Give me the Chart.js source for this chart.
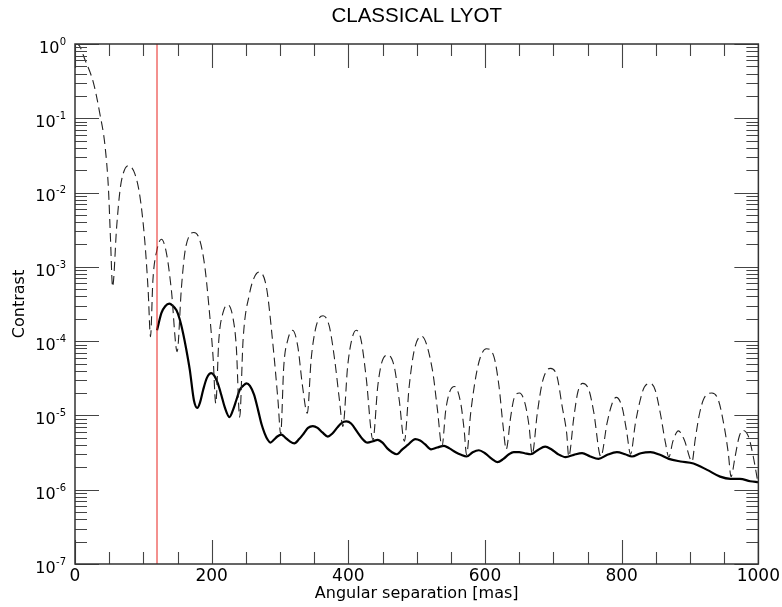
<!DOCTYPE html>
<html>
<head>
<meta charset="utf-8">
<script src="https://cdn.jsdelivr.net/npm/chart.js@4.4.1/dist/chart.umd.min.js"></script>
<style>
  html, body { margin: 0; padding: 0; background: #fff; }
  #wrap { width: 782px; height: 607px; }
</style>
</head>
<body>
<div id="wrap"><canvas id="c" width="782" height="607"></canvas></div>
<script>
// ---- Data ----
const chartTitle = 'CLASSICAL LYOT';
const xTitle = 'Angular separation [mas]';
const yTitle = 'Contrast';
const xTicks = [0, 200, 400, 600, 800, 1000];
const yTicks = [1e-7, 1e-6, 1e-5, 1e-4, 1e-3, 1e-2, 1e-1, 1];
const yTickBase = '10';
const yTickExp = ['-7', '-6', '-5', '-4', '-3', '-2', '-1', '0'];
const iwaSeparation = [120, 120];
const iwaRange = [1e-7, 1];

// dashed curve (no coronagraph PSF)
const psfX = [0, 5, 15, 27, 36, 44, 49, 52, 55, 61, 66, 70.5, 78, 87.5, 95, 102, 107, 110.5, 114, 120, 126.5, 134, 141, 149.5,
  155.5, 160.5, 167, 174, 182.5, 190, 196, 202, 206, 210.5, 216.5, 223.5, 231, 236, 241, 246, 255.5, 262, 269, 280, 289.5,
  297, 301, 305.5, 311.5, 318.5, 326, 333, 340, 345.5, 353, 363, 372, 380, 387, 392, 399, 405, 411.5, 418.5, 426, 436,
  443, 448.5, 458, 467, 474.5, 482, 489, 496.5, 507, 523, 530.5, 537, 542.5, 548.5, 555.5, 564.5, 569.5, 573, 579, 586.5,
  593.5, 602, 613, 620.5, 626.5, 631, 637.5, 642.5, 650.5, 658.5, 664.5, 669, 676.5, 683.5, 691, 696, 705.5, 713, 719.5,
  722.5, 730, 736, 743, 752, 759, 769.5, 778.5, 786, 792, 800.5, 807, 813, 820, 827, 833, 842, 849, 856.5, 864, 869, 875,
  883, 891.5, 903, 907.5, 914, 920.5, 932, 941.5, 950, 956, 960, 966, 972, 977, 985.5, 992.5, 999];
const psfY = [1, 0.98, 0.60, 0.30, 0.12, 4.2e-2, 1.1e-2, 2.3e-3, 5.4e-4, 3.5e-3, 1.1e-2, 1.8e-2, 2.3e-2, 1.8e-2, 8.9e-3, 2.3e-3, 4.9e-4, 1.15e-4, 6.6e-4, 1.7e-3, 2.35e-3, 1.5e-3, 4.9e-4, 7.2e-5,
  4.9e-4, 1.5e-3, 2.6e-3, 2.9e-3, 2.3e-3, 1.0e-3, 2.9e-4, 6.2e-5, 1.45e-5, 1.05e-4, 2.4e-4, 3.1e-4, 2.1e-4, 8.5e-5, 9.5e-6, 1.05e-4, 4.4e-4, 7.1e-4, 8.5e-4, 5.4e-4, 9.3e-5,
  1.6e-5, 5.6e-6, 4.6e-5, 1.05e-4, 1.4e-4, 8.5e-5, 2.45e-5, 1.07e-5, 5.6e-5, 1.6e-4, 2.2e-4, 1.6e-4, 5.6e-5, 1.6e-5, 7.1e-6, 4.6e-5, 1.05e-4, 1.4e-4, 1.05e-4, 3.3e-5, 4.7e-6,
  2.45e-5, 5.0e-5, 6.5e-5, 4.6e-5, 1.6e-5, 4.5e-6, 2.45e-5, 7.6e-5, 1.17e-4, 4.1e-5, 1.17e-5, 3.8e-6, 1.17e-5, 2.1e-5, 2.45e-5, 1.45e-5, 6.3e-6, 2.95e-6, 1.07e-5, 3.3e-5,
  6.2e-5, 7.9e-5, 6.2e-5, 2.45e-5, 7.1e-6, 3.5e-6, 9.5e-6, 1.7e-5, 2.0e-5, 1.45e-5, 7.1e-6, 3.0e-6, 1.07e-5, 2.7e-5, 4.1e-5, 4.3e-5, 3.3e-5, 1.3e-5, 5.75e-6,
  2.8e-6, 9.5e-6, 2.1e-5, 2.7e-5, 2.2e-5, 1.12e-5, 2.8e-6, 7.8e-6, 1.45e-5, 1.75e-5, 1.3e-5, 6.3e-6, 3.0e-6, 7.8e-6, 1.6e-5, 2.4e-5, 2.7e-5, 2.2e-5, 1.07e-5, 4.3e-6, 2.75e-6, 4.5e-6,
  6.2e-6, 4.7e-6, 2.4e-6, 4.7e-6, 1.07e-5, 1.7e-5, 2.0e-5, 1.6e-5, 7.1e-6, 3.1e-6, 1.5e-6, 2.8e-6, 5.2e-6, 6.3e-6, 5.2e-6, 2.8e-6, 1.3e-6];

// solid curve (classical Lyot coronagraph)
const lyotX = [120, 126.5, 132, 138, 143, 148.5, 153, 158, 163, 168, 174, 179, 183, 187.5, 193, 199.5, 204, 209, 214, 219, 226,
  231, 236, 241, 246, 251, 256, 262, 268, 273, 277.5, 282, 286, 291, 296, 302, 308, 314, 321, 328, 335, 341, 348, 355, 362,
  370, 377, 384, 390, 397, 404, 413, 420, 428, 436, 443, 450, 457, 464, 471, 479, 487, 498, 505, 512, 521, 530, 540, 548,
  557, 565, 573, 582, 591, 600, 610, 618, 627, 635, 642, 650, 658, 667, 677, 688, 697, 707, 718, 730, 742, 754, 766, 779,
  793, 805, 815, 828, 842, 856, 869, 886, 905, 925, 944, 959, 973, 988, 1000];
const lyotY = [1.4e-4, 2.4e-4, 2.95e-4, 3.2e-4, 3.0e-4, 2.6e-4, 2.0e-4, 1.3e-4, 7.6e-5, 4.1e-5, 1.6e-5, 1.26e-5, 1.5e-5, 2.2e-5, 3.2e-5, 3.7e-5, 3.4e-5, 2.7e-5, 1.9e-5, 1.3e-5, 9.5e-6,
  1.17e-5, 1.6e-5, 2.2e-5, 2.5e-5, 2.7e-5, 2.5e-5, 1.9e-5, 1.17e-5, 7.6e-6, 5.75e-6, 4.7e-6, 4.3e-6, 4.7e-6, 5.2e-6, 5.5e-6, 5.0e-6, 4.5e-6, 4.2e-6, 4.8e-6, 5.75e-6, 6.8e-6, 7.2e-6, 6.8e-6, 5.9e-6,
  5.2e-6, 5.75e-6, 6.9e-6, 7.9e-6, 8.3e-6, 7.8e-6, 6.0e-6, 4.9e-6, 4.3e-6, 4.5e-6, 4.7e-6, 4.3e-6, 3.6e-6, 3.2e-6, 3.0e-6, 3.5e-6, 4.0e-6, 4.8e-6, 4.6e-6, 4.1e-6, 3.5e-6, 3.7e-6, 3.9e-6, 3.6e-6,
  3.2e-6, 2.95e-6, 2.8e-6, 3.2e-6, 3.4e-6, 3.1e-6, 2.6e-6, 2.35e-6, 2.6e-6, 3.0e-6, 3.2e-6, 3.2e-6, 3.1e-6, 3.0e-6, 3.4e-6, 3.8e-6, 3.5e-6, 3.0e-6, 2.75e-6, 2.95e-6, 3.1e-6, 2.8e-6, 2.6e-6, 2.95e-6,
  3.2e-6, 3.0e-6, 2.8e-6, 3.1e-6, 3.2e-6, 2.95e-6, 2.6e-6, 2.4e-6, 2.25e-6, 1.85e-6, 1.5e-6, 1.4e-6, 1.4e-6, 1.3e-6, 1.26e-6];

const pts = (xs, ys) => xs.map((x, i) => ({ x: x, y: ys[i] }));

// inward ticks, frame and superscript y labels, drawn through the chart's own scales
const frameTicks = {
  id: 'frameTicks',
  afterDatasetsDraw(chart) {
    const { ctx, chartArea: a, scales: { x, y } } = chart;
    ctx.save();
    ctx.strokeStyle = '#444';
    ctx.lineWidth = 1.1;
    ctx.beginPath();
    for (let v = 0; v <= 1000; v += 50) {
      const px = Math.round(x.getPixelForValue(v)) + 0.5;
      const L = (v % 200 === 0) ? 24 : 12;
      ctx.moveTo(px, a.bottom); ctx.lineTo(px, a.bottom - L);
      ctx.moveTo(px, a.top); ctx.lineTo(px, a.top + L);
    }
    for (let e = -7; e <= 0; e++) {
      const py = Math.round(y.getPixelForValue(Math.pow(10, e))) + 0.5;
      ctx.moveTo(a.left, py); ctx.lineTo(a.left + 24, py);
      ctx.moveTo(a.right, py); ctx.lineTo(a.right - 24, py);
      if (e < 0) {
        for (let m = 2; m <= 9; m++) {
          const pm = Math.round(y.getPixelForValue(m * Math.pow(10, e))) + 0.5;
          ctx.moveTo(a.left, pm); ctx.lineTo(a.left + 12, pm);
          ctx.moveTo(a.right, pm); ctx.lineTo(a.right - 12, pm);
        }
      }
    }
    ctx.stroke();
    ctx.strokeStyle = '#333';
    ctx.lineWidth = 1.5;
    ctx.strokeRect(a.left, a.top, a.right - a.left, a.bottom - a.top);

    // y tick labels: "10" with a raised exponent
    ctx.fillStyle = '#000';
    ctx.textAlign = 'right';
    ctx.textBaseline = 'alphabetic';
    const rightEdge = a.left - 9;
    yTicks.forEach((v, i) => {
      const py = y.getPixelForValue(v);
      ctx.font = '10px "DejaVu Sans", sans-serif';
      const ew = ctx.measureText(yTickExp[i]).width;
      ctx.fillText(yTickExp[i], rightEdge, py + 0.8);
      ctx.font = '16px "DejaVu Sans", sans-serif';
      ctx.fillText(yTickBase, rightEdge - ew - 0.3, py + 8.8);
    });
    ctx.restore();
  }
};

new Chart(document.getElementById('c'), {
  type: 'line',
  data: {
    datasets: [
      {
        label: 'IWA',
        data: pts(iwaSeparation, iwaRange),
        borderColor: '#e8231e',
        borderWidth: 1,
        pointRadius: 0,
        tension: 0
      },
      {
        label: 'PSF',
        data: pts(psfX, psfY),
        borderColor: '#222',
        borderWidth: 1.1,
        borderDash: [9, 5],
        pointRadius: 0,
        cubicInterpolationMode: 'monotone'
      },
      {
        label: 'Classical Lyot',
        data: pts(lyotX, lyotY),
        borderColor: '#000',
        borderWidth: 2.2,
        pointRadius: 0,
        cubicInterpolationMode: 'monotone'
      }
    ]
  },
  options: {
    responsive: false,
    animation: false,
    devicePixelRatio: 1,
    layout: { padding: { left: 0, right: 22, top: 0, bottom: 0 } },
    plugins: {
      legend: { display: false },
      tooltip: { enabled: false },
      title: {
        display: true,
        text: chartTitle,
        fullSize: false,
        color: '#000',
        font: { family: '"Liberation Sans", Arial, sans-serif', size: 20.5, weight: 'normal', lineHeight: 1.2 },
        padding: { top: 4.2, bottom: 15.2 }
      }
    },
    scales: {
      x: {
        type: 'linear',
        min: 0,
        max: 1000,
        grid: { display: false, drawTicks: false },
        border: { display: false },
        afterBuildTicks: s => { s.ticks = xTicks.map(v => ({ value: v })); },
        afterFit: s => { s.height = 43; },
        ticks: {
          color: '#000',
          padding: 2,
          maxRotation: 0,
          font: { family: '"DejaVu Sans", sans-serif', size: 17 },
          callback: v => String(v)
        },
        title: {
          display: true,
          text: xTitle,
          color: '#000',
          font: { family: '"DejaVu Sans", sans-serif', size: 16 },
          padding: { top: 0, bottom: 4 }
        }
      },
      y: {
        type: 'logarithmic',
        min: 1e-7,
        max: 1,
        grid: { display: false, drawTicks: false },
        border: { display: false },
        afterBuildTicks: s => { s.ticks = yTicks.map(v => ({ value: v })); },
        afterFit: s => { s.width = 75; },
        ticks: { display: false },
        title: {
          display: true,
          text: yTitle,
          color: '#000',
          font: { family: '"DejaVu Sans", sans-serif', size: 16 },
          padding: { top: 10, bottom: 0 }
        }
      }
    }
  },
  plugins: [frameTicks]
});
</script>
</body>
</html>
